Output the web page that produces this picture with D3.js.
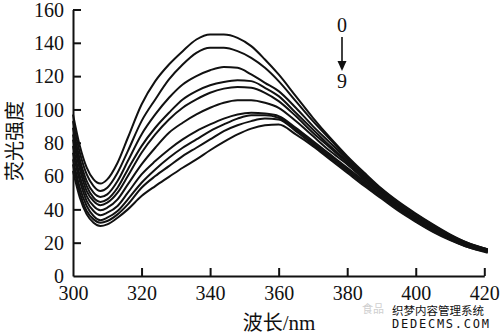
<!DOCTYPE html>
<html>
<head>
<meta charset="utf-8">
<script src="https://cdn.jsdelivr.net/npm/d3@7"></script>
<style>
  html, body { margin: 0; padding: 0; background: #fff; }
  svg { display: block; }
  .num { font-family: "Liberation Serif", "Times New Roman", "DejaVu Serif", serif; }
  .cjk { font-family: "Noto Sans CJK SC", "Noto Sans", sans-serif; }
</style>
</head>
<body>
<svg id="chart" width="500" height="336"></svg>
<script>
// Wavelength grid (nm) shared by all spectra
const wavelengths = [300, 302, 304, 306, 308, 310, 313, 316, 320, 324, 328, 332, 336, 340, 344, 348, 352, 356,
                     360, 365, 370, 375, 380, 385, 390, 395, 400, 405, 410, 415, 421];

// Fluorescence intensity for samples 0..9
const spectrum0 = [97, 78, 65, 58, 55.5, 58, 68, 83, 103, 117, 127, 135, 142, 145, 145, 143, 138, 130,
                   121, 108, 95, 83, 72, 62, 52.5, 44.5, 37.5, 31, 25, 20, 16];
const spectrum1 = [93, 74, 61, 54, 51, 53, 62, 75, 93, 106, 118, 127, 134, 137, 137, 135, 131, 125,
                   117, 105, 93, 82, 71, 61, 52, 44, 37, 30.5, 24.5, 20, 16];
const spectrum2 = [89, 70, 57, 50, 47.5, 49, 57, 69, 85, 97, 107, 115, 120, 123.5, 125.5, 125, 121, 116,
                   111, 101, 90, 80, 70, 60, 51, 43, 36, 30, 24, 19.5, 16];
const spectrum3 = [85, 67, 54, 47, 44.5, 46, 53, 64, 78, 89, 98, 106, 111, 114.5, 116.5, 117.5, 117, 113,
                   108, 98, 88, 78, 69, 59.5, 50.5, 42.5, 35.5, 29.5, 23.5, 19, 15.5];
const spectrum4 = [82, 64, 51, 45, 42.5, 44, 50, 60, 74, 85, 94, 101, 106, 110, 112.5, 113.5, 113, 110,
                   105, 96, 86, 77, 68, 59, 50, 42, 35, 29, 23, 19, 15.5];
const spectrum5 = [78, 60, 48, 42, 39.5, 41, 46, 55, 67, 77, 86, 92, 97, 101, 104, 105.5, 105.5, 104,
                   101, 93, 84, 75, 67, 58, 49.5, 41.5, 34.5, 28.5, 23, 18.5, 15];
const spectrum6 = [74, 57, 45, 39, 36.5, 38, 42, 50, 61, 69, 76, 82, 87, 91, 94.5, 97, 98, 97.5,
                   96, 89, 81, 73, 65, 57, 49, 41, 34, 28, 22.5, 18, 15];
const spectrum7 = [70, 53, 42, 36, 33.5, 35, 39, 46, 56, 64, 71, 77, 82, 87, 91, 94.5, 96.5, 96.5,
                   95, 88, 80, 72, 64, 56, 48, 40.5, 33.5, 27.5, 22, 18, 14.5];
const spectrum8 = [67, 50, 39, 34, 32, 33, 37, 43, 53, 60, 66, 72, 77, 82, 87, 90.5, 93, 94.5,
                   94, 87, 79, 71, 63, 55, 47.5, 40, 33, 27, 22, 17.5, 14.5];
const spectrum9 = [63, 47, 37, 32, 30, 31, 35, 40, 48, 54, 59.5, 65, 70, 75.5, 80.5, 85, 88.5, 90.5,
                   91, 85, 78, 70, 62, 54, 46.5, 39, 32.5, 26.5, 21.5, 17.5, 14];

const spectra = [spectrum0, spectrum1, spectrum2, spectrum3, spectrum4,
                 spectrum5, spectrum6, spectrum7, spectrum8, spectrum9];

const xTicks = [300, 320, 340, 360, 380, 400, 420];
const yTicks = [0, 20, 40, 60, 80, 100, 120, 140, 160];

const svg = d3.select("#chart");

const x = d3.scaleLinear().domain([300, 420]).range([73, 484.3]);
const y = d3.scaleLinear().domain([0, 160]).range([276, 9.5]);

// Spectra
const line = d3.line()
  .x((d, i) => x(wavelengths[i]))
  .y(d => y(d))
  .curve(d3.curveMonotoneX);

svg.append("g")
  .selectAll("path")
  .data(spectra)
  .join("path")
  .attr("d", line)
  .attr("fill", "none")
  .attr("stroke", "#111")
  .attr("stroke-width", 2)
  .attr("stroke-linejoin", "round");

// Axes with inward ticks
const xAxis = svg.append("g")
  .attr("transform", `translate(0,${y(0)})`)
  .call(d3.axisBottom(x).tickValues(xTicks).tickSizeInner(-8).tickSizeOuter(0).tickPadding(16));
const yAxis = svg.append("g")
  .attr("transform", `translate(${x(300)},0)`)
  .call(d3.axisLeft(y).tickValues(yTicks).tickSizeInner(-8).tickSizeOuter(0).tickPadding(9));

[xAxis, yAxis].forEach(g => {
  g.attr("font-family", null).attr("font-size", null);
  g.select(".domain").attr("stroke", "#111").attr("stroke-width", 2);
  g.selectAll(".tick line").attr("stroke", "#111").attr("stroke-width", 2);
  g.selectAll(".tick text")
    .attr("class", "num")
    .attr("fill", "#111")
    .style("font-size", "20px");
});
xAxis.selectAll(".tick text").attr("dy", "0.4em");
yAxis.selectAll(".tick text").attr("dy", "0.34em");
yAxis.selectAll(".tick line").filter(d => d === 0).remove();
xAxis.selectAll(".tick line").filter(d => d === 300).remove();

// Axis titles
svg.append("text")
  .attr("class", "cjk")
  .attr("transform", `translate(15,141) rotate(-90)`)
  .attr("text-anchor", "middle")
  .attr("dy", "0.35em")
  .style("font-size", "20px")
  .attr("fill", "#111")
  .text("荧光强度");

svg.append("text")
  .attr("x", 279)
  .attr("y", 330)
  .attr("text-anchor", "middle")
  .attr("fill", "#111")
  .style("font-size", "20px")
  .call(t => {
    t.append("tspan").attr("class", "cjk").text("波长");
    t.append("tspan").attr("class", "num").style("font-size", "21px").text("/nm");
  });

// Order annotation: 0 → 9
const ax = 342;
svg.append("text").attr("class", "num").attr("x", ax).attr("y", 32).attr("text-anchor", "middle")
  .style("font-size", "20px").attr("fill", "#111").text("0");
svg.append("line").attr("x1", ax).attr("x2", ax).attr("y1", 37).attr("y2", 62)
  .attr("stroke", "#111").attr("stroke-width", 1.6);
svg.append("path")
  .attr("d", `M${ax - 4.5},61 L${ax + 4.5},61 L${ax},71 Z`)
  .attr("fill", "#111");
svg.append("text").attr("class", "num").attr("x", ax).attr("y", 88).attr("text-anchor", "middle")
  .style("font-size", "20px").attr("fill", "#111").text("9");

// Site watermark
svg.append("text").attr("class", "cjk").attr("x", 362).attr("y", 313)
  .style("font-size", "11px").attr("fill", "#cfcfcf").text("食品");
svg.append("text").attr("class", "cjk").attr("x", 392).attr("y", 315)
  .style("font-size", "11.5px").attr("fill", "#111").text("织梦内容管理系统");
svg.append("text").attr("x", 392).attr("y", 328)
  .style("font-family", "'DejaVu Sans Mono', monospace").style("font-size", "12px").attr("fill", "#111")
  .attr("textLength", 97).text("DEDECMS.COM");
</script>
</body>
</html>
